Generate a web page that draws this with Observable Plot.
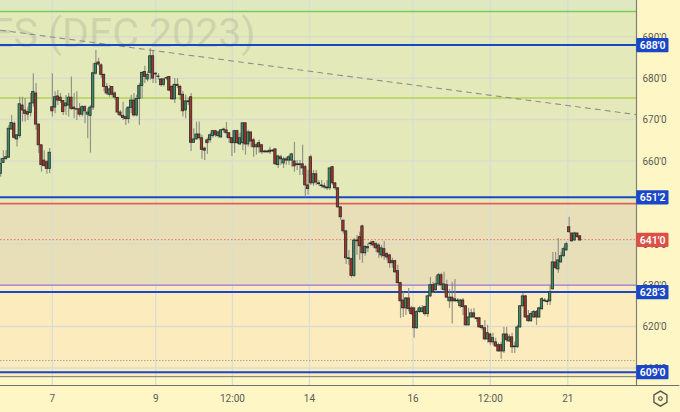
<!DOCTYPE html>
<html><head><meta charset="utf-8">
<script src="https://cdn.jsdelivr.net/npm/d3@7"></script>
<script src="https://cdn.jsdelivr.net/npm/@observablehq/plot@0.6"></script>
<style>html,body{margin:0;padding:0;background:#fef7c5}svg{display:block}</style>
</head><body><div id="chart"></div>
<script>
const opens=[656.9,659.5,660.5,660.8,667.6,669,665.2,666,673.4,672.2,
671.8,671.6,673.9,676.3,668.8,663.8,660.1,659.7,658.1,673,
672.9,675.6,675.3,674.5,673.2,673.4,675.3,672.9,672.5,672.5,
671.2,673,671.2,670.9,672.9,681.1,683.8,683.1,680.8,677.9,
676,677.9,676.3,675.2,671.7,670.9,670.6,670.1,672.8,674.6,
671,675,678.1,681.5,679.7,681.3,685.3,681.1,680.4,679.7,
678.4,679.9,680.3,677.9,674.9,678.4,677.9,676,672.2,674.2,
675.4,664.4,665.2,666.4,665.5,663,665,665,666,667.2,
666,665.7,667.4,667.4,666.7,665.5,664.3,667.2,664,664.3,
669.1,664,666.9,665,663.3,664.3,663.8,662.3,662.1,662.5,
662.3,662.8,659,660.9,659.4,660.4,660.1,660.1,659.9,659.2,
659,659.2,658.5,654.1,660.9,654.6,656.8,654.6,654.1,653.9,
653.6,653.4,658.5,654.6,653.4,648.8,645.6,643,636.3,636.3,
632.2,640.6,641.6,644.2,637.7,638.9,639.9,640.4,639.9,639.6,
637.2,638.7,637.5,637.2,635.8,635.8,633.4,630.5,626.3,624.4,
626.8,624.4,624.4,619.6,623.5,623.5,624.7,623,627.3,630,
628.8,630.2,632.4,628.8,630,626.1,627,626.6,626.3,624.9,
626.3,624.9,620.3,622.2,623.2,622,622,620.1,619.6,616.9,
618.1,616.2,616.2,615.5,615.5,614,618.1,616.4,617.4,615,
615,619.8,624.9,627.3,622.5,621.3,622.2,623.5,622.2,624.2,
626.3,626.1,626.1,629,635.5,633.8,635.5,637,638.4,644,
642.5,640.8,642.5,641.8];
const closes=[659.3,660.5,660.9,667.8,669.2,665.6,666.2,673.7,672.2,671.4,
671.2,673.9,676.7,668.8,663.8,659,658.8,658.1,662,672,
675.4,674.6,674.5,671.8,673.9,675.3,672.6,672.5,672.4,671.2,
673,672,671.7,672.9,681.2,683.5,683.3,680.8,677.9,676.3,
677.3,676,675.3,671.7,671,670.4,670.1,672.9,674.6,671,
675,678.1,681.3,680.3,680.8,685.3,679.9,680.9,680.3,678.3,
679.7,680,677,674.9,678.4,678.1,675.9,672,674.4,674.4,
664.4,665.2,666.4,665.5,662.7,662.5,664.3,666.2,667.2,666.2,
666.9,667.4,667.6,666.7,665.5,664.3,667.2,664.3,665.5,669.1,
664,666.9,664.7,663.3,663.8,663.3,662.1,662.1,662.3,662.1,
662.5,659.2,661.1,660.4,660.4,660.1,660.9,661.6,658.7,659,
659.2,658.2,654.1,653.2,654.6,656.8,654.8,654.4,653.9,653.6,
653.4,658.2,654.6,653.4,648.8,646.4,643,636.5,636.5,632.2,
640.8,640.8,639.4,637.7,639.2,639.2,640.1,639.6,638.9,637.9,
638.9,637,636.7,635.3,635.3,633.1,630.5,626.1,624.4,626.8,
624.2,623,619.6,623.5,624.4,624.4,623,627.3,630,628.3,
630.2,632.4,630,630.2,627,627,626.1,626.1,626.1,626.3,
624.7,620.3,622.2,623.2,622.2,621.8,619.8,619.6,616.9,618.4,
616.2,617.2,615.2,614,614,618.1,616.7,617.4,615,615.2,
619.8,624.9,627.3,622.2,621.3,623,623.5,622.2,624.4,626.6,
626.1,625.9,628.3,635.5,634.1,636,637,638.7,639.9,642.8,
640.6,642.5,641.6,640.8];
const highs=[660.6,662.5,662.5,668.6,671,669.4,666.2,675.4,675.4,675.1,
673,676.3,681.1,678.7,669,663.8,662.5,660.1,663,681.1,
676.7,677,676.3,674.6,675.8,676.3,680.3,676.3,676.7,673.9,
673.4,673.4,672.6,673.4,683.5,686.7,684.8,683.5,681.1,678.7,
678.3,677.9,676.7,675.4,672.2,674.2,672.6,673,675.9,676.3,
675.9,678.7,681.5,682.9,681.5,687.1,686.7,681.3,681.1,679.9,
680,680.3,680.3,678.3,679.9,679.9,678.3,676.7,675.9,675.1,
676.3,667.8,669.4,669.4,666.2,663.3,665.5,666.7,667.4,667.4,
667.2,667.6,667.9,669.3,666.9,665.7,667.4,667.4,666.7,669.3,
669.3,667.4,666.9,665.5,664.3,665,664,662.5,662.5,663.3,
662.8,663,661.4,661.4,660.9,660.9,661.4,661.9,664.5,660.1,
660.1,663.8,659,657.7,661.4,657.7,657.7,655.3,655.3,654.6,
655.3,658.5,658.7,654.8,653.6,649,645.6,643.3,638.4,636.5,
641.3,642,642.8,644.5,639.6,640.1,640.6,640.6,640.4,640.1,
639.6,640.6,637.9,637.5,636.5,636,634.8,630.7,628.3,627,
629.2,624.9,624.7,623.9,624.9,625.1,624.9,627.6,631.9,630.7,
632.1,632.9,632.9,633.1,631.2,629,630.7,631.4,626.8,626.6,
626.8,625.1,624.4,624.2,624.4,622.2,622.2,620.3,621.5,620.3,
618.4,618.4,617.2,616,616.2,619.8,619.8,618.1,618.4,616.2,
620.3,625.1,628,627.6,623.9,623.5,623.9,623.9,624.7,627,
626.8,626.6,630,637.9,637.9,641.3,637.9,639.2,640.4,646.4,
642.5,642.8,642.5,642];
const lows=[656.1,659.4,660.1,660.6,667.4,665.2,663.4,665.5,669.4,669.4,
669.8,670.6,673,667.4,661.8,657.3,658.5,656.8,656.9,670.6,
671.4,673.4,673.9,671,671,670.6,672.2,670.2,669.8,670.6,
670.6,669,665.4,661.9,672.2,680.7,682.9,679.9,676.7,675.9,
675.4,675.4,674.6,671,670.6,669.8,668.6,669,671.4,670.6,
670.6,668.6,675,678.7,679.1,679.5,678.7,678.7,679.5,677.9,
677.9,679.5,676.7,674.6,673.9,677.5,674.6,670.6,670.2,673.4,
662.3,664.2,665.1,665,660.4,660.1,661.6,664.3,665.5,665.7,
665.5,665.5,666.7,665.5,664.3,661.1,661.9,664,663.8,662.5,
661.4,663.3,663.3,660.9,661.4,661.9,661.6,661.9,661.9,661.6,
662.1,659,658.2,659,658.2,659,659,658.5,657.3,657.7,
656.5,656.5,651.2,651.7,654.1,653.9,654.1,653.9,653.4,653.2,
652.9,652.9,654.1,652.9,648.6,645.6,642.3,635,634.8,631.7,
631.9,637.2,636,635.3,637,637.9,639.4,638.9,637.9,636.5,
636.5,636,636,634.1,634.1,632.9,630.2,622,622.2,622.7,
623.5,622.7,617.2,619.3,623.2,623.2,622.5,622.2,627,628,
628.3,630,628.8,628.3,626.8,624.4,620.6,625.9,625.6,624.4,
622.7,620.1,620.1,622,622,621,619.6,619.1,616.6,616,
615.5,615.5,615,613.8,612.1,613.5,616.2,616.2,613.5,613.5,
614.8,619.6,624.7,622,621,621,622,620.3,622,623.9,
625.9,625.1,625.1,628.8,633.8,632.9,635.3,636.7,638.2,642.5,
640.3,640.6,641.3,640.6];

const xTickPos=[19,57,85.2,113.5,151.6,180,208.5];
const xTickLabels=["7","9","12:00","14","16","12:00","21"];
const yTicks=[610,620,630,640,660,670,680,690];
const priceLevels=[688,651.25,628.375,609];
const priceLevelLabels=["688'0","651'2","628'3","609'0"];
const lastPrice=641, lastPriceLabel="641'0";
const frameEnd=233.75, pillEnd=245.7, pillHalf=1.72;
const yTop=698.77, yBottom=605.77;
const zones=[
  {top:yTop,bottom:696,fill:"#e0e8c2"},
  {top:696,bottom:649.7,fill:"#e4e9b9"},
  {top:649.7,bottom:630,fill:"#e8dfb8"},
  {top:630,bottom:607.9,fill:"#fcebbd"}
];
const trend=[{x:-0.07,y:691.6},{x:frameEnd,y:671.2}];
const bars=opens.map((o,i)=>({i,o,c:closes[i],h:highs[i],l:lows[i]}));
const up="#3f8c68", down="#ad322a", outline="#26302a";
const hl=(y,stroke,w,dash)=>Plot.ruleY([y],{x1:-0.07,x2:frameEnd,stroke,strokeWidth:w,strokeDasharray:dash});

const chart=Plot.plot({
  width:680,height:412,marginLeft:0,marginRight:44,marginTop:0,marginBottom:27,
  style:{background:"#fef7c5",fontFamily:"Roboto, sans-serif",overflow:"hidden"},
  x:{domain:[-0.07,frameEnd],range:[0,636]},
  y:{domain:[yBottom,yTop],range:[385,0]},
  marks:[
    Plot.rect(zones,{x1:-0.07,x2:frameEnd,y1:"bottom",y2:"top",fill:"fill"}),
    Plot.ruleY(yTicks,{stroke:"#d9dccd",strokeWidth:1.5}),
    Plot.ruleX(xTickPos,{y1:yBottom,y2:yTop,stroke:"#d5dfd2",strokeWidth:1.3}),
    Plot.text(["ES (DEC 2023)"],{x:-0.07,y:yTop,dx:255,dy:33,textAnchor:"end",fontSize:41,fill:"#8a9484",fillOpacity:0.25}),
    hl(696.1,"#78cc58",1.4),
    hl(675.2,"#b2d05c",1.4),
    hl(611.8,"#a8a8a0",1,"1.5,1.5"),
    hl(607.9,"#77776f",1),
    hl(649.7,"#e2605c",1.6),
    hl(630,"#9a78d8",1.2),
    hl(lastPrice,"#e8705e",1,"1.5,2"),
    Plot.line(trend,{x:"x",y:"y",stroke:"#8e9088",strokeWidth:1.1,strokeDasharray:"5,5"}),
    Plot.ruleY(priceLevels,{x1:-0.07,x2:frameEnd,stroke:"#1a47c8",strokeWidth:2}),
    Plot.ruleX(bars,{x:"i",y1:"l",y2:"h",stroke:"#85857f",strokeWidth:1.2,strokeOpacity:0.85}),
    Plot.rect(bars,{x1:d=>d.i-0.43,x2:d=>d.i+0.43,y1:d=>Math.min(d.o,d.c),y2:d=>Math.max(d.o,d.c),
      fill:d=>d.c>=d.o?up:down,stroke:outline,strokeWidth:0.8}),
    Plot.ruleX([frameEnd],{y1:yBottom,y2:yTop,stroke:"#7d7f7a",strokeWidth:1.2}),
    Plot.ruleY([yBottom],{x1:-0.07,x2:pillEnd+4,stroke:"#6f716b",strokeWidth:1.2}),
    Plot.axisY(yTicks,{anchor:"right",tickSize:0,tickPadding:6,dy:0.6,tickFormat:d=>d+"'0",fontSize:10,fill:"#5a5a55",label:null}),
    Plot.axisX(xTickPos,{anchor:"bottom",tickSize:0,tickPadding:9,tickFormat:(d,i)=>xTickLabels[i],fontSize:10,fill:"#5a5a55",label:null}),
    Plot.rect(priceLevels,{x1:frameEnd+0.1,x2:pillEnd,y1:d=>d-pillHalf,y2:d=>d+pillHalf,dy:0.6,fill:"#1a47c8",rx:1}),
    Plot.rect([lastPrice],{x1:frameEnd+0.1,x2:pillEnd,y1:d=>d-pillHalf,y2:d=>d+pillHalf,dy:0.6,fill:"#dc5045",rx:1}),
    Plot.text(priceLevels,{x:frameEnd+5.9,y:d=>d,dy:0.6,text:(d,i)=>priceLevelLabels[i],fill:"#fff",fontSize:10.5,fontWeight:600}),
    Plot.text([lastPrice],{x:frameEnd+5.9,y:d=>d,dy:0.6,text:()=>lastPriceLabel,fill:"#fff",fontSize:10.5,fontWeight:600}),
    Plot.dot([0],{x:frameEnd+8.8,y:602.6,symbol:"hexagon",r:6.5,stroke:"#4f4f4a",strokeWidth:1.3,fill:"none"}),
    Plot.dot([0],{x:frameEnd+8.8,y:602.6,r:1.8,stroke:"#4f4f4a",strokeWidth:1.1,fill:"none"})
  ]
});
document.getElementById("chart").appendChild(chart);
</script></body></html>
